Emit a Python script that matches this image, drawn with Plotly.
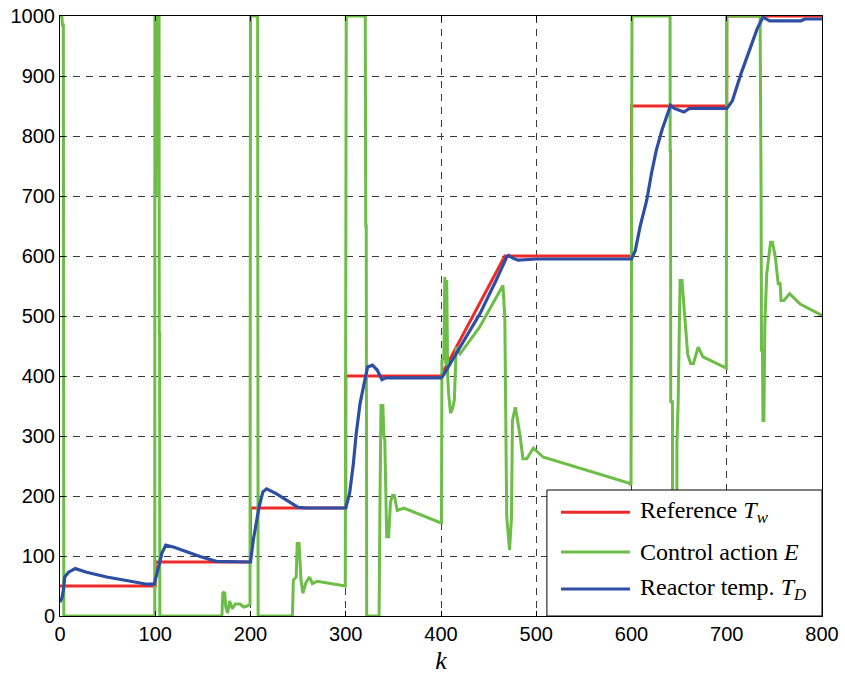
import plotly.graph_objects as go

# Reference temperature T_w
ref_k = [0, 100, 100, 200, 200, 300, 300, 400, 467, 600, 600, 700, 700, 800]
ref_v = [50, 50, 90, 90, 180, 180, 400, 400, 600, 600, 850, 850, 1000, 1000]

# Control action E
e_k = [0, 2, 2.5, 3.5, 4,
       99.5, 99.6, 100.5, 100.8, 101.2, 102, 102.3, 102.8, 104, 104.2, 104.6, 104.8,
       170, 171, 173, 174, 176, 178, 181, 184, 189, 193, 197, 199.5,
       200, 207.5, 208, 244, 245, 248, 249, 251, 253, 255, 258, 262, 265, 270, 280, 299.5,
       300.5, 320.5, 321, 321.5, 322, 335, 336, 337, 339, 340, 341, 343, 345, 347, 349, 351, 354, 361, 400,
       400.5, 401, 403, 404, 405, 406, 407, 408, 410, 412, 414, 416, 420, 440, 465,
       467, 468, 469, 472, 474, 475, 478, 480, 483, 486, 490, 497, 507, 598, 599.5,
       600.5, 640.5, 640.6, 641, 641.2, 643, 643.2, 645, 645.5, 646, 647.5, 647.7, 649, 650, 651, 653,
       655, 657, 659, 662, 665, 670, 675, 699.5,
       700, 735, 735.3, 736, 736.5, 737.5, 738, 739, 740, 742, 746, 748, 751, 754, 756, 757, 760, 766, 777, 800]
e_v = [1000, 1000, 985, 985, 0,
       0, 1000, 1000, 700, 1000, 1000, 750, 1000, 1000, 470, 470, 0,
       0, 40, 38, 15, 5, 25, 12, 20, 20, 15, 17, 20,
       1000, 1000, 0, 0, 60, 65, 121, 121, 60, 38, 55, 65, 54, 58, 55, 50,
       1000, 1000, 650, 650, 0, 0, 200, 351, 351, 300, 293, 132, 132, 190, 201, 201, 176, 180, 155,
       155, 426, 430, 565, 420, 560, 400, 370, 338, 345, 360, 448, 437, 480, 551,
       498, 248, 165, 110, 165, 326, 348, 330, 300, 262, 262, 280, 265, 221, 218,
       1000, 1000, 776, 776, 357, 357, 0, 0, 200, 0, 0, 288, 357, 484, 559, 559,
       518, 471, 436, 421, 421, 448, 432, 413,
       1000, 1000, 721, 721, 443, 443, 326, 326, 487, 571, 623, 623, 598, 554, 554, 526, 526, 537, 520, 501]

# Reactor temperature T_D
td_k = [0, 2, 3.5, 5, 9, 16, 28, 49, 77, 91, 99, 101, 104, 107, 111, 119, 133, 147, 164, 182, 200,
        203, 206, 209, 213, 217, 227, 241, 250, 260, 300, 304, 308, 311, 315, 320, 323, 328, 333, 338,
        342, 360, 400, 402, 420, 441, 458, 469, 471, 476, 481, 500, 600, 604, 609, 616, 621, 626, 632,
        637, 641, 645, 650, 655, 661, 700, 702, 706, 715, 724, 732, 738, 745, 778, 782, 800]
td_v = [23, 30, 43, 65, 73, 79, 73, 65, 57, 53, 53, 65, 88, 105, 118, 115, 107, 99, 91, 90, 90,
        127, 159, 182, 207, 212, 204, 190, 181, 180, 180, 204, 254, 304, 354, 393, 415, 418, 410, 394,
        397, 397, 397, 400, 448, 504, 560, 598, 601, 596, 593, 595, 595, 609, 649, 693, 738, 776, 810,
        834, 851, 846, 843, 840, 846, 846, 850, 859, 904, 943, 979, 998, 992, 992, 995, 995]

x_ticks = list(range(0, 801, 100))
y_ticks = list(range(0, 1001, 100))

RED = "#EE2A2A"
GREEN = "#6CBE46"
BLUE = "#2D4EA2"

names = ["Reference <i>T</i><sub><i>w</i></sub>",
         "Control action <i>E</i>",
         "Reactor temp. <i>T</i><sub><i>D</i></sub>"]
colors = [RED, GREEN, BLUE]

fig = go.Figure()
fig.add_trace(go.Scatter(x=ref_k, y=ref_v, mode="lines", name=names[0],
                         line=dict(color=RED, width=3), showlegend=False))
fig.add_trace(go.Scatter(x=e_k, y=e_v, mode="lines", name=names[1],
                         line=dict(color=GREEN, width=3), showlegend=False))
fig.add_trace(go.Scatter(x=td_k, y=td_v, mode="lines", name=names[2],
                         line=dict(color=BLUE, width=3.2), showlegend=False))

axis_common = dict(
    showline=True, linecolor="black", linewidth=1, mirror="ticks",
    ticks="inside", ticklen=5, tickcolor="black",
    showgrid=True, gridcolor="#3a3a3a", gridwidth=1, griddash="7px,6px",
    zeroline=False, automargin=False,
    tickfont=dict(family="Liberation Sans, Arial", size=20, color="black"),
)

fig.update_layout(
    width=845, height=680,
    margin=dict(l=60, r=23, t=16, b=64),
    paper_bgcolor="white", plot_bgcolor="white",
    xaxis=dict(range=[0, 800], tickvals=x_ticks, **axis_common,
               title=dict(text="<i>k</i>", font=dict(family="Liberation Serif, Times New Roman", size=26, color="black"),
                          standoff=6)),
    yaxis=dict(range=[0, 1000], tickvals=y_ticks, **axis_common),
)

# Legend box (drawn manually to match the original's long line samples)
x0, x1 = 0.639, 1.0
y0, y1 = 0.0, 0.21
fig.add_shape(type="rect", xref="paper", yref="paper", x0=x0, x1=x1, y0=y0, y1=y1,
              line=dict(color="black", width=1), fillcolor="white", layer="above")
rows = [0.173, 0.1067, 0.045]
for nm, col, ry in zip(names, colors, rows):
    fig.add_shape(type="line", xref="paper", yref="paper", x0=0.6575, x1=0.748, y0=ry, y1=ry,
                  line=dict(color=col, width=3), layer="above")
    fig.add_annotation(xref="paper", yref="paper", x=0.7585, y=ry, text=nm, showarrow=False,
                       xanchor="left", yanchor="middle",
                       font=dict(family="Liberation Serif, Times New Roman", size=24, color="black"))

fig.write_html("out.html")
